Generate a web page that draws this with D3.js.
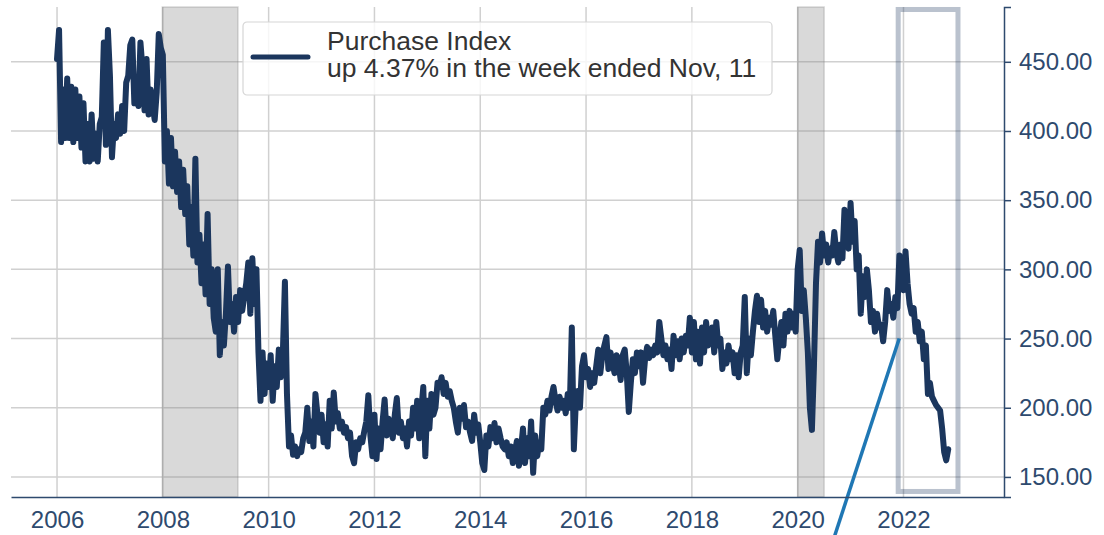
<!DOCTYPE html>
<meta charset="utf-8">
<style>
body { margin: 0; background: #fff; }
svg { display: block; }
text { font-family: "Liberation Sans", Arial, sans-serif; }
.grid line { stroke: #d0d0d0; stroke-width: 1.5px; }
.yaxis text, .xaxis text { fill: #2e4a6e; font-size: 24px; }
</style>
<body>
<svg width="1104" height="535"></svg>
<script src="https://cdn.jsdelivr.net/npm/d3@7"></script>
<script>

// MBA purchase index, sampled twice a month (26 points per year)
var v2006 = [452,473,392,430,395,438,395,432,392,430,395,425,388,420,378,405,378,412,380,398,378,405,410,464,390,473];
var v2007 = [440,381,405,395,412,398,418,400,435,440,462,466,420,425,418,464,445,415,452,412,430,418,408,428,470,460];
var v2008 = [455,378,400,362,395,360,385,356,378,345,372,340,360,318,345,310,380,305,325,290,318,282,340,275,300,265];
var v2009 = [255,300,238,262,245,268,302,262,275,255,280,262,285,270,280,290,305,268,308,275,300,240,205,240,210,232];
var v2010 = [215,238,205,230,215,242,222,240,291,210,172,180,166,172,165,170,168,178,182,200,176,190,172,210,195,182];
var v2011 = [195,175,188,172,205,185,211,190,196,185,190,182,186,178,182,165,160,175,170,178,175,183,190,209,180,165];
var v2012 = [195,163,185,170,190,206,180,192,186,178,195,207,182,190,178,185,172,190,180,200,185,205,178,198,215,165];
var v2013 = [205,185,210,195,200,218,215,222,210,218,208,212,205,200,190,182,200,192,202,186,190,182,176,195,182,188];
var v2014 = [175,160,155,180,172,186,178,189,175,185,178,172,170,175,165,172,160,168,176,158,170,185,160,178,165,190];
var v2015 = [153,180,165,175,170,200,195,205,198,208,215,205,198,208,200,205,196,210,200,258,170,205,212,200,230,238];
var v2016 = [222,228,215,225,218,230,242,225,238,245,251,228,240,232,225,238,232,220,238,242,225,197,218,235,225,240];
var v2017 = [230,240,218,235,244,236,242,238,245,240,262,250,238,245,235,242,228,252,238,248,235,250,240,252,245,265];
var v2018 = [240,262,235,255,232,258,240,262,245,250,258,240,262,245,250,228,240,232,245,235,240,225,238,222,240,245];
var v2019 = [280,225,250,238,255,270,281,262,278,258,270,255,265,260,270,252,235,250,262,245,268,255,270,258,268,255];
var v2020 = [300,314,270,285,265,240,200,184,230,290,320,305,326,310,318,305,315,310,327,312,305,318,308,343,325,315];
var v2021 = [348,320,335,300,310,268,295,280,300,285,262,270,255,268,258,260,248,262,285,270,275,265,280,272,310,290];
var v2022 = [285,313,290,275,268,272,255,262,248,255,235,245,210,218,208,205,202,200,198,185,168,162,170];

var seriesByYear = [v2006,v2007,v2008,v2009,v2010,v2011,v2012,v2013,v2014,v2015,v2016,v2017,v2018,v2019,v2020,v2021,v2022];
var firstYear = 2006;
var pointsPerYear = 26;

var xTicks = [2006, 2008, 2010, 2012, 2014, 2016, 2018, 2020, 2022];
var yTicks = [150, 200, 250, 300, 350, 400, 450];

var recessions = [[2007.99, 2009.42], [2020.0, 2020.5]];
var highlightBox = [2021.9, 2023.03, 139.5, 487.8];   // x0, x1, y0, y1
var arrowFrom = [2020.55, 90];
var arrowTo = [2021.92, 250];

var legendLines = ["Purchase Index", "up 4.37% in the week ended Nov, 11"];

var navy = "#1b365d";

var svg = d3.select("svg");

var x = d3.scaleLinear().domain([2005.13, 2023.9]).range([11, 1004]);
var y = d3.scaleLinear().domain([135.5, 489.6]).range([497, 7]);

var data = [];
seriesByYear.forEach(function(vals, i) {
  vals.forEach(function(v, k) {
    data.push({ t: firstYear + i + k / pointsPerYear, v: v });
  });
});

// grid
var grid = svg.append("g").attr("class", "grid");
grid.selectAll(".gx").data(xTicks).enter().append("line")
    .attr("x1", function(d) { return x(d); }).attr("x2", function(d) { return x(d); })
    .attr("y1", y.range()[1]).attr("y2", y.range()[0]);
grid.selectAll(".gy").data(yTicks).enter().append("line")
    .attr("y1", function(d) { return y(d); }).attr("y2", function(d) { return y(d); })
    .attr("x1", x.range()[0]).attr("x2", x.range()[1]);

// recession shading
svg.append("g").selectAll("rect").data(recessions).enter().append("rect")
    .attr("x", function(d) { return x(d[0]); })
    .attr("width", function(d) { return x(d[1]) - x(d[0]); })
    .attr("y", y.range()[1])
    .attr("height", y.range()[0] - y.range()[1])
    .attr("fill", "gray").attr("fill-opacity", 0.3)
    .attr("stroke", "gray").attr("stroke-opacity", 0.3).attr("stroke-width", 1.5);

// highlight box
svg.append("rect")
    .attr("x", x(highlightBox[0]))
    .attr("width", x(highlightBox[1]) - x(highlightBox[0]))
    .attr("y", y(highlightBox[3]))
    .attr("height", y(highlightBox[2]) - y(highlightBox[3]))
    .attr("fill", "none")
    .attr("stroke", navy).attr("stroke-opacity", 0.3).attr("stroke-width", 5);

// data line
var line = d3.line()
    .x(function(d) { return x(d.t); })
    .y(function(d) { return y(d.v); });

svg.append("path")
    .datum(data)
    .attr("d", line)
    .attr("fill", "none")
    .attr("stroke", navy)
    .attr("stroke-width", 6)
    .attr("stroke-linejoin", "round")
    .attr("stroke-linecap", "round");

// annotation arrow
svg.append("line")
    .attr("x1", x(arrowFrom[0])).attr("y1", y(arrowFrom[1]))
    .attr("x2", x(arrowTo[0])).attr("y2", y(arrowTo[1]))
    .attr("stroke", "#1f77b4").attr("stroke-width", 3.5);

// axes
var xAxis = svg.append("g").attr("class", "xaxis")
    .attr("transform", "translate(0," + y.range()[0] + ")")
    .call(d3.axisBottom(x).tickValues(xTicks).tickFormat(d3.format("d")).tickSize(0).tickPadding(14));
xAxis.select(".domain").attr("stroke", "#2e4a6e").attr("stroke-width", 1.5);

var yAxis = svg.append("g").attr("class", "yaxis")
    .attr("transform", "translate(" + x.range()[1] + ",0)")
    .call(d3.axisRight(y).tickValues(yTicks).tickFormat(d3.format(".2f")).tickSize(7).tickPadding(8));
yAxis.select(".domain").attr("stroke", "#2e4a6e").attr("stroke-width", 1.5);
yAxis.selectAll(".tick line").attr("stroke", "#2e4a6e").attr("stroke-width", 1.5);
xAxis.attr("font-family", null).attr("font-size", null);
yAxis.attr("font-family", null).attr("font-size", null);

// legend
var legend = svg.append("g").attr("transform", "translate(243,22)");
legend.append("rect")
    .attr("width", 529).attr("height", 73)
    .attr("rx", 4)
    .attr("fill", "#fff").attr("fill-opacity", 0.8)
    .attr("stroke", "#d6d6d6").attr("stroke-width", 1.2);
legend.append("line")
    .attr("x1", 10).attr("x2", 65).attr("y1", 35).attr("y2", 35)
    .attr("stroke", navy).attr("stroke-width", 5).attr("stroke-linecap", "round");
legend.selectAll(".lt").data(legendLines).enter().append("text")
    .attr("x", 84)
    .attr("y", function(d, i) { return 28 + i * 27; })
    .attr("fill", "#333")
    .style("font-size", "26.5px")
    .text(function(d) { return d; });

</script>
</body>
